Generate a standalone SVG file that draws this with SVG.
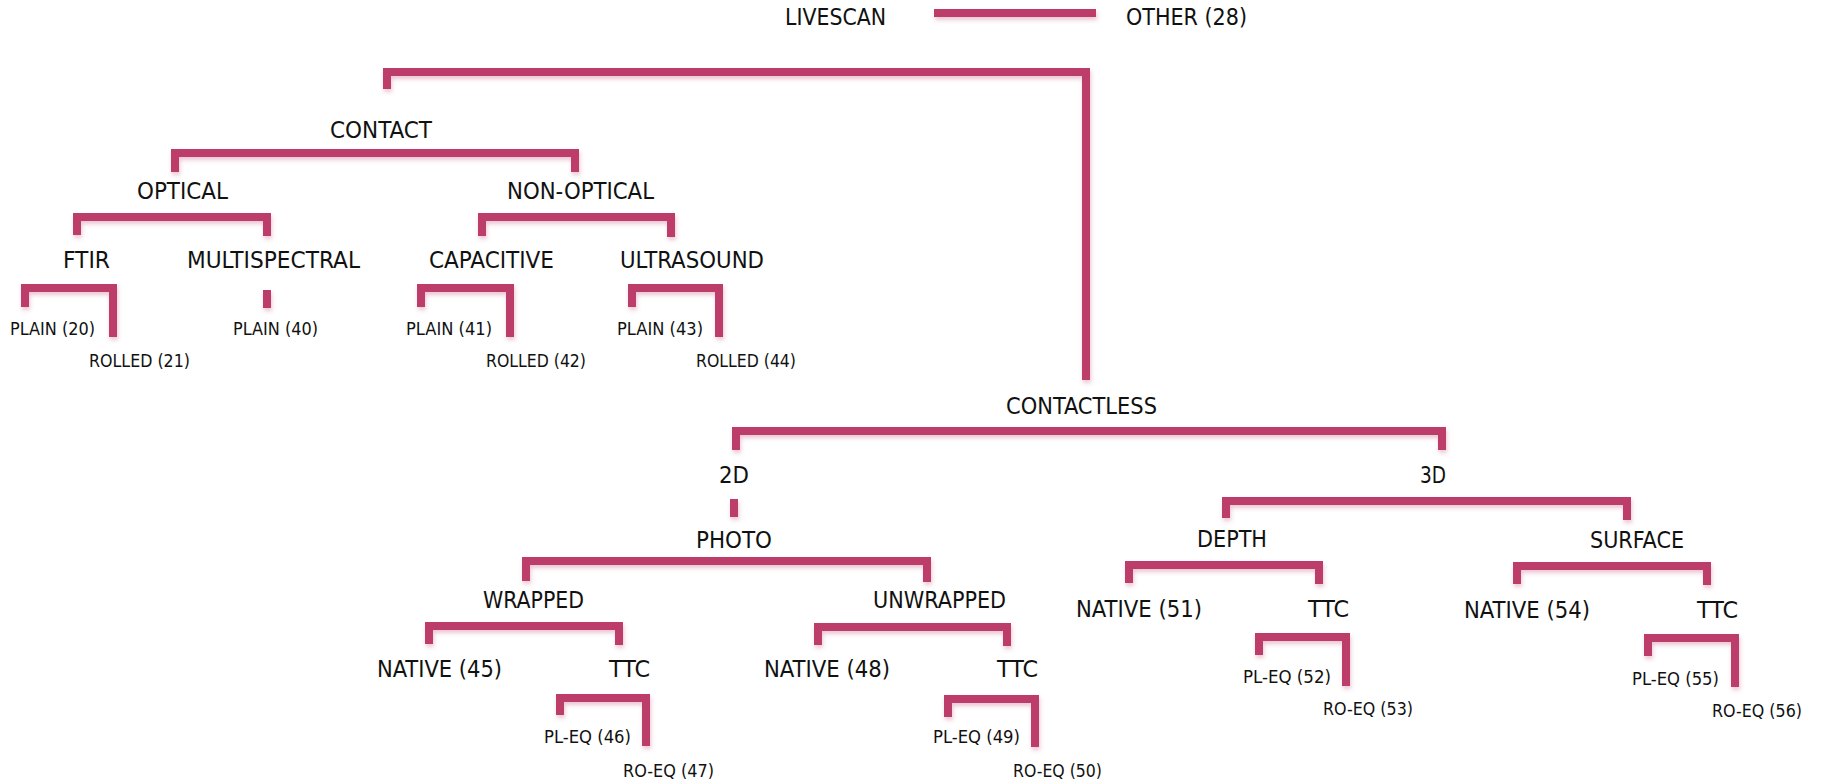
<svg xmlns="http://www.w3.org/2000/svg" width="1821" height="784" viewBox="0 0 1821 784">
<defs>
<filter id="sh" x="-5%" y="-20%" width="110%" height="160%">
<feDropShadow dx="1" dy="3" stdDeviation="2" flood-color="#BC3E6A" flood-opacity="0.3"/>
</filter>
</defs>
<style>
.c{fill:none;stroke:#BC3E6A;stroke-width:8;stroke-linejoin:miter;stroke-linecap:butt}
text{font-family:"Liberation Sans Narrow","DejaVu Sans Condensed","Liberation Sans",sans-serif;fill:#111}
.b{font-size:23px}
.s{font-size:18px}
</style>
<rect width="1821" height="784" fill="#fff"/>
<g id="connectors" filter="url(#sh)">
<path class="c" d="M934,13 H1096"/>
<path class="c" d="M387,89 V72 H1086 V380"/>
<path class="c" d="M175,172 V153 H575 V172"/>
<path class="c" d="M77,235 V217 H267 V236"/>
<path class="c" d="M482,236 V217 H671 V237"/>
<path class="c" d="M25,307 V288 H113 V337"/>
<path class="c" d="M267,290 V308"/>
<path class="c" d="M421,307 V288 H510 V337"/>
<path class="c" d="M632,307 V288 H719 V337"/>
<path class="c" d="M736,450 V431 H1442 V450"/>
<path class="c" d="M734,499 V517"/>
<path class="c" d="M1226,518 V501 H1627 V520"/>
<path class="c" d="M526,581 V561 H927 V582"/>
<path class="c" d="M429,644 V626 H619 V645"/>
<path class="c" d="M818,645 V627 H1007 V646"/>
<path class="c" d="M1129,583 V565 H1319 V584"/>
<path class="c" d="M1517,584 V566 H1707 V585"/>
<path class="c" d="M560,715 V698 H646 V746"/>
<path class="c" d="M948,717 V699 H1035 V747"/>
<path class="c" d="M1259,655 V637 H1346 V686"/>
<path class="c" d="M1648,656 V638 H1735 V687"/>
</g>
<g id="livescan"><text class="b" x="785" y="25" textLength="101" lengthAdjust="spacingAndGlyphs">LIVESCAN</text></g>
<g id="other"><text class="b" x="1126" y="25" textLength="121" lengthAdjust="spacingAndGlyphs">OTHER (28)</text></g>
<g id="contact"><text class="b" x="330" y="138" textLength="102" lengthAdjust="spacingAndGlyphs">CONTACT</text></g>
<g id="optical"><text class="b" x="137" y="199" textLength="91" lengthAdjust="spacingAndGlyphs">OPTICAL</text></g>
<g id="nonoptical"><text class="b" x="507" y="199" textLength="147" lengthAdjust="spacingAndGlyphs">NON-OPTICAL</text></g>
<g id="ftir"><text class="b" x="63" y="268" textLength="47" lengthAdjust="spacingAndGlyphs">FTIR</text></g>
<g id="multispectral"><text class="b" x="187" y="268" textLength="173" lengthAdjust="spacingAndGlyphs">MULTISPECTRAL</text></g>
<g id="capacitive"><text class="b" x="429" y="268" textLength="125" lengthAdjust="spacingAndGlyphs">CAPACITIVE</text></g>
<g id="ultrasound"><text class="b" x="620" y="268" textLength="144" lengthAdjust="spacingAndGlyphs">ULTRASOUND</text></g>
<g id="plain20"><text class="s" x="10" y="335" textLength="85" lengthAdjust="spacingAndGlyphs">PLAIN (20)</text></g>
<g id="rolled21"><text class="s" x="89" y="367" textLength="101" lengthAdjust="spacingAndGlyphs">ROLLED (21)</text></g>
<g id="plain40"><text class="s" x="233" y="335" textLength="85" lengthAdjust="spacingAndGlyphs">PLAIN (40)</text></g>
<g id="plain41"><text class="s" x="406" y="335" textLength="86" lengthAdjust="spacingAndGlyphs">PLAIN (41)</text></g>
<g id="rolled42"><text class="s" x="486" y="367" textLength="100" lengthAdjust="spacingAndGlyphs">ROLLED (42)</text></g>
<g id="plain43"><text class="s" x="617" y="335" textLength="86" lengthAdjust="spacingAndGlyphs">PLAIN (43)</text></g>
<g id="rolled44"><text class="s" x="696" y="367" textLength="100" lengthAdjust="spacingAndGlyphs">ROLLED (44)</text></g>
<g id="contactless"><text class="b" x="1006" y="414" textLength="151" lengthAdjust="spacingAndGlyphs">CONTACTLESS</text></g>
<g id="d2"><text class="b" x="719" y="483" textLength="30" lengthAdjust="spacingAndGlyphs">2D</text></g>
<g id="d3"><text class="b" x="1420" y="483" textLength="26" lengthAdjust="spacingAndGlyphs">3D</text></g>
<g id="photo"><text class="b" x="696" y="548" textLength="76" lengthAdjust="spacingAndGlyphs">PHOTO</text></g>
<g id="depth"><text class="b" x="1197" y="547" textLength="70" lengthAdjust="spacingAndGlyphs">DEPTH</text></g>
<g id="surface"><text class="b" x="1590" y="548" textLength="94" lengthAdjust="spacingAndGlyphs">SURFACE</text></g>
<g id="wrapped"><text class="b" x="483" y="608" textLength="101" lengthAdjust="spacingAndGlyphs">WRAPPED</text></g>
<g id="unwrapped"><text class="b" x="873" y="608" textLength="133" lengthAdjust="spacingAndGlyphs">UNWRAPPED</text></g>
<g id="native45"><text class="b" x="377" y="677" textLength="125" lengthAdjust="spacingAndGlyphs">NATIVE (45)</text></g>
<g id="ttc_w"><text class="b" x="609" y="677" textLength="41" lengthAdjust="spacingAndGlyphs">TTC</text></g>
<g id="native48"><text class="b" x="764" y="677" textLength="126" lengthAdjust="spacingAndGlyphs">NATIVE (48)</text></g>
<g id="ttc_u"><text class="b" x="997" y="677" textLength="41" lengthAdjust="spacingAndGlyphs">TTC</text></g>
<g id="native51"><text class="b" x="1076" y="617" textLength="126" lengthAdjust="spacingAndGlyphs">NATIVE (51)</text></g>
<g id="ttc_d"><text class="b" x="1308" y="617" textLength="41" lengthAdjust="spacingAndGlyphs">TTC</text></g>
<g id="native54"><text class="b" x="1464" y="618" textLength="126" lengthAdjust="spacingAndGlyphs">NATIVE (54)</text></g>
<g id="ttc_s"><text class="b" x="1697" y="618" textLength="41" lengthAdjust="spacingAndGlyphs">TTC</text></g>
<g id="pleq46"><text class="s" x="544" y="743" textLength="87" lengthAdjust="spacingAndGlyphs">PL-EQ (46)</text></g>
<g id="roeq47"><text class="s" x="623" y="777" textLength="91" lengthAdjust="spacingAndGlyphs">RO-EQ (47)</text></g>
<g id="pleq49"><text class="s" x="933" y="743" textLength="87" lengthAdjust="spacingAndGlyphs">PL-EQ (49)</text></g>
<g id="roeq50"><text class="s" x="1013" y="777" textLength="89" lengthAdjust="spacingAndGlyphs">RO-EQ (50)</text></g>
<g id="pleq52"><text class="s" x="1243" y="683" textLength="88" lengthAdjust="spacingAndGlyphs">PL-EQ (52)</text></g>
<g id="roeq53"><text class="s" x="1323" y="715" textLength="90" lengthAdjust="spacingAndGlyphs">RO-EQ (53)</text></g>
<g id="pleq55"><text class="s" x="1632" y="685" textLength="87" lengthAdjust="spacingAndGlyphs">PL-EQ (55)</text></g>
<g id="roeq56"><text class="s" x="1712" y="717" textLength="90" lengthAdjust="spacingAndGlyphs">RO-EQ (56)</text></g>
</svg>
